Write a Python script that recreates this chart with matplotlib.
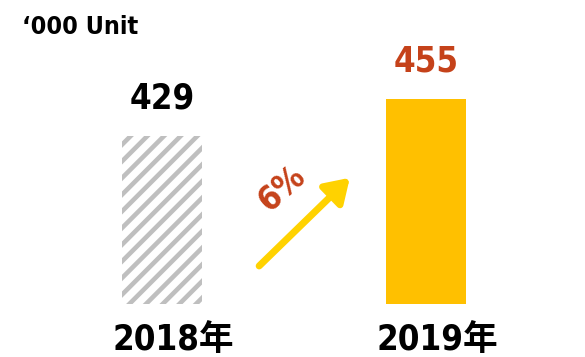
import matplotlib.pyplot as plt
from matplotlib.transforms import blended_transform_factory

# yearly volume, thousand units
years = ['2018年', '2019年']
volumes = [429, 455]
growth = '6%'
unit_label = '\u2018000 Unit'

plt.rcParams['hatch.linewidth'] = 3.3

fonts = ['DejaVu Sans', 'Noto Sans CJK SC']
txt = dict(fontweight='bold', fontstretch='condensed', family=fonts)
red = '#C5421A'

fig = plt.figure(figsize=(5.85, 3.57), dpi=100)
# plot area starts above the year labels; value axis is cut at 311
ax = fig.add_axes([0, 53 / 357, 1, 304 / 357])
ax.set_xlim(-0.614, 1.602)
ax.set_ylim(311, 525)
ax.axis('off')

x = range(len(years))
bars = ax.bar(x, volumes, width=0.3, linewidth=0)
# 2018 bar: grey diagonal stripes, 2019 bar: solid yellow
bars[0].set_facecolor('white')
bars[0].set_edgecolor('#BFBFBF')
bars[0].set_hatch('//')
bars[1].set_facecolor('#FFC000')

label_colors = ['black', red]
for i, v in enumerate(volumes):
    ax.annotate(str(v), (i, v), xytext=(0, 15), textcoords='offset points',
                ha='center', va='bottom', fontsize=25, color=label_colors[i],
                annotation_clip=False, **txt)

trans = blended_transform_factory(ax.transData, fig.transFigure)
for i, yr in enumerate(years):
    ax.annotate(yr, (i, 0.047), xycoords=trans, xytext=(8, 0),
                textcoords='offset points', ha='center', va='center',
                fontsize=25, annotation_clip=False, **txt)

fig.text(0.038, 0.925, unit_label, ha='left', va='center', fontsize=18, **txt)

# growth arrow between the two bars
fig.add_artist(plt.Annotation(
    '', xy=(0.598, 0.502), xytext=(0.443, 0.255), xycoords='figure fraction',
    arrowprops=dict(arrowstyle='-|>,head_length=1.4,head_width=0.9',
                    color='#FFD200', lw=5, shrinkA=0, shrinkB=0)))
fig.text(0.482, 0.47, growth, rotation=42, ha='center', va='center',
         fontsize=24, color=red, **txt)

fig.savefig('out.png', dpi=100)
